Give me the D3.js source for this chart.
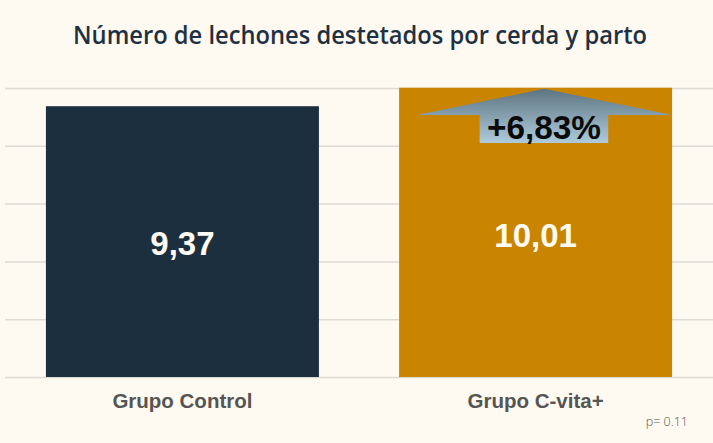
<!DOCTYPE html>
<html>
<head>
<meta charset="utf-8">
<script src="https://d3js.org/d3.v7.min.js"></script>
<style>
  body { margin: 0; background: #fefaf2; }
  svg { display: block; }
</style>
</head>
<body>
<div id="chart"></div>
<script>
// data
var categories = ["Grupo Control", "Grupo C-vita+"];
var values = [9.37, 10.01];
var valueLabels = ["9,37", "10,01"];
var gridTicks = [0, 2, 4, 6, 8, 10];
var increaseLabel = "+6,83%";
var pValueLabel = "p= 0.11";

var svgWidth = 713;
var svgHeight = 443;

var barColors = ["#1c2f3e", "#c98500"];

var svg = d3.select("#chart")
    .append("svg")
    .attr("width", svgWidth)
    .attr("height", svgHeight);

svg.append("rect")
    .attr("width", svgWidth)
    .attr("height", svgHeight)
    .attr("fill", "#fefaf2");

// title
svg.append("text")
    .attr("x", 73)
    .attr("y", 44)
    .attr("font-family", "Open Sans")
    .attr("font-weight", 600)
    .attr("font-size", 26)
    .attr("textLength", 574)
    .attr("lengthAdjust", "spacingAndGlyphs")
    .attr("fill", "#1e3142")
    .text("Número de lechones destetados por cerda y parto");

// scales
var x = d3.scaleBand()
    .domain(categories)
    .range([6, 712])
    .paddingInner(0.227)
    .paddingOuter(0.113);

var y = d3.scaleLinear()
    .domain([0, 10])
    .range([377, 88]);

// gridlines
svg.append("g")
    .selectAll("line")
    .data(gridTicks)
    .enter()
    .append("line")
    .attr("x1", 5)
    .attr("x2", 713)
    .attr("y1", d => y(d) + 0.5)
    .attr("y2", d => y(d) + 0.5)
    .attr("stroke", "#dedad3")
    .attr("stroke-width", 1.5);

// bars
svg.append("g")
    .selectAll("rect")
    .data(values)
    .enter()
    .append("rect")
    .attr("x", (d, i) => x(categories[i]))
    .attr("y", d => y(d))
    .attr("width", x.bandwidth())
    .attr("height", d => y(0) - y(d))
    .attr("fill", (d, i) => barColors[i]);

// value labels inside bars
svg.append("g")
    .selectAll("text")
    .data(values)
    .enter()
    .append("text")
    .attr("x", (d, i) => x(categories[i]) + x.bandwidth() / 2)
    .attr("y", (d, i) => i === 0 ? 255 : 247)
    .attr("text-anchor", "middle")
    .attr("font-family", "Liberation Sans, Arial, sans-serif")
    .attr("font-weight", "bold")
    .attr("font-size", 33)
    .attr("fill", "#fffbf2")
    .text((d, i) => valueLabels[i]);

// increase arrow on the second bar
var defs = svg.append("defs");
var grad = defs.append("linearGradient")
    .attr("id", "arrowGrad")
    .attr("x1", 0).attr("y1", 0)
    .attr("x2", 0).attr("y2", 1);
grad.append("stop").attr("offset", "0%").attr("stop-color", "#5d7482");
grad.append("stop").attr("offset", "100%").attr("stop-color", "#aecbdb");

var bx = x(categories[1]);
var bw = x.bandwidth();
var tipX = bx + bw * 0.532;
var tipY = y(values[1]) + 1;
var wingY = 115;
var shaftL = bx + bw * 0.295;
var shaftR = bx + bw * 0.766;
var shaftB = 143;

svg.append("path")
    .attr("d", [
        "M", tipX, tipY,
        "L", bx + bw, wingY,
        "L", shaftR, wingY,
        "L", shaftR, shaftB,
        "L", shaftL, shaftB,
        "L", shaftL, wingY,
        "L", bx + bw * 0.066, wingY,
        "Z"].join(" "))
    .attr("fill", "url(#arrowGrad)");

svg.append("text")
    .attr("x", 487)
    .attr("y", 139)
    .attr("font-family", "Liberation Sans, Arial, sans-serif")
    .attr("font-weight", "bold")
    .attr("font-size", 32.5)
    .attr("textLength", 114)
    .attr("lengthAdjust", "spacingAndGlyphs")
    .attr("fill", "#0b0b0b")
    .text(increaseLabel);

// category labels
svg.append("g")
    .selectAll("text")
    .data(categories)
    .enter()
    .append("text")
    .attr("x", d => x(d) + x.bandwidth() / 2)
    .attr("y", 408)
    .attr("text-anchor", "middle")
    .attr("font-family", "Liberation Sans, Arial, sans-serif")
    .attr("font-weight", "bold")
    .attr("font-size", 20.5)
    .attr("fill", "#555553")
    .text(d => d);

// p value note
svg.append("text")
    .attr("x", 688)
    .attr("y", 426)
    .attr("text-anchor", "end")
    .attr("font-family", "Open Sans")
    .attr("font-weight", 300)
    .attr("font-size", 12.5)
    .attr("fill", "#555553")
    .text(pValueLabel);
</script>
</body>
</html>
